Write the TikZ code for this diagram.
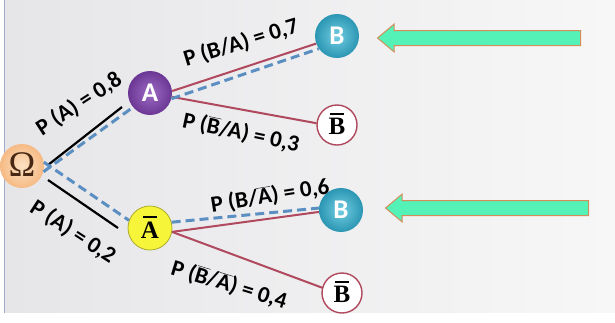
\documentclass[tikz,border=0pt]{standalone}
\usepackage{fontspec}
\setmainfont{Liberation Serif}
\newfontfamily\lblfont{Carlito}
\usetikzlibrary{shapes.arrows}
\definecolor{bgA}{HTML}{E6E6E9}
\definecolor{bgB}{HTML}{F7F7F7}
\definecolor{redline}{HTML}{B0485E}
\definecolor{blueline}{HTML}{5B8FC2}
\definecolor{peachin}{HTML}{FCE2C4}
\definecolor{peachout}{HTML}{F6BA84}
\definecolor{purpin}{HTML}{9C6CC4}
\definecolor{purpout}{HTML}{6C3794}
\definecolor{tealin}{HTML}{72CDE2}
\definecolor{tealout}{HTML}{2B96B3}
\definecolor{yel}{HTML}{F6F53A}
\definecolor{mint}{HTML}{55F2B8}
\definecolor{arrowedge}{HTML}{D38E5A}
\newcommand{\barlet}[1]{\shortstack{\rule{0.55em}{0.08em}\\[0.02em]#1}}
\tikzset{
  x=1pt, y=-1pt,
  lbl/.style={font=\lblfont\bfseries\fontsize{23}{23}\selectfont, inner sep=0pt},
  blackln/.style={line width=2.2pt, black},
  redln/.style={line width=2pt, redline},
  blueln/.style={line width=3pt, blueline, dash pattern=on 9pt off 5pt},
  ballnode/.style={circle, minimum size=44pt, inner sep=0pt},
  outnode/.style={circle, minimum size=40pt, inner sep=0pt, draw=redline, line width=1.4pt, fill=white},
  balltext/.style={font=\lblfont\bfseries\fontsize{27}{27}\selectfont, text=white},
  bartext/.style={font=\bfseries\fontsize{25}{25}\selectfont, inner sep=0pt},
  bigarrow/.style={single arrow, draw=arrowedge, line width=1pt, fill=mint, minimum height=203pt, minimum width=27pt, single arrow head extend=6.5pt, single arrow tip angle=80, shape border rotate=180, inner xsep=0pt, inner ysep=7pt},
}
\begin{document}
\begin{tikzpicture}
\useasboundingbox (0,0) rectangle (615,322);
\fill[white] (0,0) rectangle (615,322);
\shade[left color=bgA, right color=bgB] (4,0) rectangle (615,313);
\fill[white] (4,313) rectangle (615,322);
\draw[line width=1.5pt, color={rgb,255:red,160;green,172;blue,200}] (4.5,0) -- (4.5,313);

% black connectors (stop short of the next node)
\coordinate (oa1) at (48,165);
\coordinate (oa2) at (122,107);
\draw[blackln] (oa1) -- (oa2);
\coordinate (ob1) at (48,180);
\coordinate (ob2) at (118,228);
\draw[blackln] (ob1) -- (ob2);

\node[ballnode, shading=radial, inner color=peachin, outer color=peachout] (O) at (22,166) {};
\node[ballnode, shading=radial, inner color=purpin, outer color=purpout] (A) at (150,93) {};
\node[ballnode, fill=yel, draw=yel!70!black, line width=0.8pt] (Ab) at (150,228) {};
\node[ballnode, shading=radial, inner color=tealin, outer color=tealout] (B1) at (337,36) {};
\node[outnode] (Bb1) at (337,125) {};
\node[ballnode, shading=radial, inner color=tealin, outer color=tealout] (B2) at (341,210) {};
\node[outnode] (Bb2) at (342,293) {};

\draw[redln] (A.5) -- (B1.200);
\draw[redln] (A.-10) -- (Bb1.175);
\draw[redln] (Ab.-10) -- (B2.185);
\draw[redln] (Ab.-10) -- (Bb2.165);

\draw[blueln] (O.-15) -- (A.220);
\draw[blueln] (A.-15) -- (B1.215);
\draw[blueln] (O.10) -- (Ab.160);
\draw[blueln] (Ab.15) -- (B2.175);

% node texts
\node[font=\fontsize{36}{36}\selectfont, text={rgb,255:red,70;green,40;blue,20}] (Ot) at (22,165) {Ω};
\node[balltext] (At) at (A) {A};
\node[bartext] (Abt) at (150,227) {\barlet{A}};
\node[balltext] (B1t) at (B1) {B};
\node[bartext] (Bb1t) at (337,124) {\barlet{B}};
\node[balltext] (B2t) at (B2) {B};
\node[bartext] (Bb2t) at (342,292) {\barlet{B}};

% labels
\node[lbl, rotate=33] (l1) at (79,104) {P (A) = 0,8};
\node[lbl, rotate=-33] (l2) at (73,232) {P (A) = 0,2};
\node[lbl, rotate=17] (l3) at (241,43) {P (B/A) = 0,7};
\node[lbl, rotate=-12] (l4) at (241,133) {P ($\overline{\mbox{B}}$/A) = 0,3};
\node[lbl, rotate=9] (l5) at (270,196) {P (B/$\overline{\mbox{A}}$) = 0,6};
\node[lbl, rotate=-17] (l6) at (229,285) {P ($\overline{\mbox{B}}$/$\overline{\mbox{A}}$) = 0,4};

% arrows
\node[bigarrow] (ar1) at (483.5,38) {};
\node[bigarrow] (ar2) at (491.5,208) {};
\end{tikzpicture}
\end{document}
